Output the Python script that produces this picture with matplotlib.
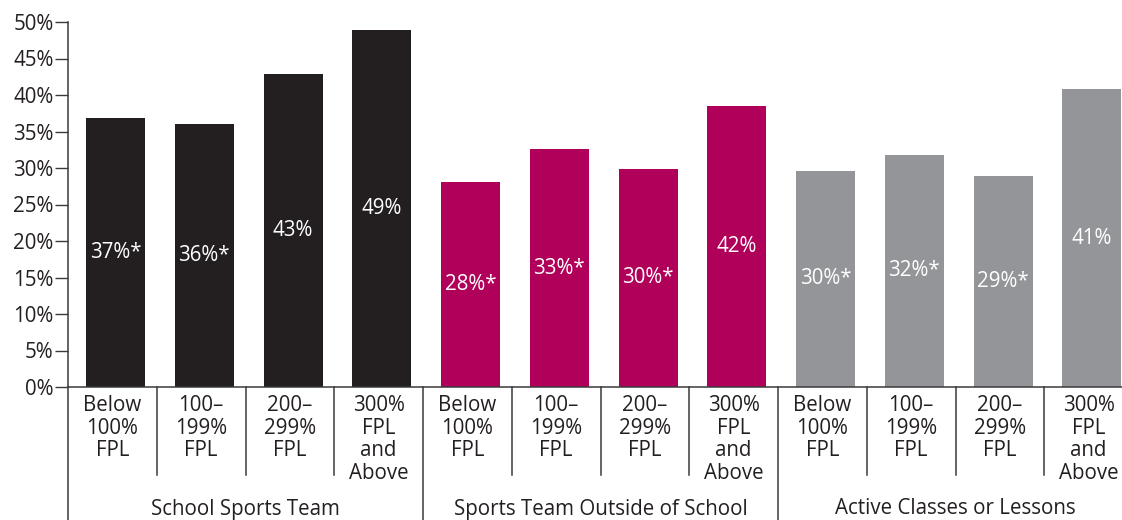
import matplotlib
matplotlib.use("Agg")
import matplotlib.pyplot as plt
from matplotlib.lines import Line2D

plt.rcParams['font.family'] = ['Open Sans', 'DejaVu Sans']

groups = ["School Sports Team", "Sports Team Outside of School", "Active Classes or Lessons"]
categories = ["Below\n100%\nFPL", "100–\n199%\nFPL", "200–\n299%\nFPL", "300%\nFPL\nand\nAbove"]
values = [
    [36.8, 36.0, 42.9, 48.9],
    [28.1, 32.6, 29.9, 38.5],
    [29.6, 31.8, 28.9, 40.8],
]
labels = [
    ["37%*", "36%*", "43%", "49%"],
    ["28%*", "33%*", "30%*", "42%"],
    ["30%*", "32%*", "29%*", "41%"],
]
colors = ["#231f20", "#b1005a", "#939598"]
yticks = [0, 5, 10, 15, 20, 25, 30, 35, 40, 45, 50]
ytick_labels = ["0%", "5%", "10%", "15%", "20%", "25%", "30%", "35%", "40%", "45%", "50%"]

W, H = 1122, 520
fig = plt.figure(figsize=(W / 100, H / 100), dpi=100)
ax_left = 68 / W
ax_right = 1133 / W
ax_bottom = 1 - 387 / H
ax_top = 1 - 22 / H
ax = fig.add_axes([ax_left, ax_bottom, ax_right - ax_left, ax_top - ax_bottom])

axis_color = "#3a3a3c"
text_color = "#231f20"
fs = 14.8
n_cat = len(categories)
bar_w = 59 / 88.75
offset = 47.5 / 88.75

for g, (vals, labs, col) in enumerate(zip(values, labels, colors)):
    xs = [g * n_cat + i + offset for i in range(n_cat)]
    ax.bar(xs, vals, width=bar_w, color=col, zorder=2)
    for x, v, lab in zip(xs, vals, labs):
        ax.text(x, v / 2, lab, ha="center", va="center", color="white", fontsize=fs)

ax.set_xlim(0, len(groups) * n_cat)
ax.set_ylim(0, 50)
ax.set_yticks(yticks)
ax.set_yticklabels(ytick_labels, fontsize=fs, color=text_color)
ax.tick_params(axis="y", direction="out", length=9.5, width=1.0, color=axis_color, pad=1)
ax.set_xticks([])
for s in ["top", "right"]:
    ax.spines[s].set_visible(False)
ax.spines["left"].set_color(axis_color)
ax.spines["bottom"].set_color(axis_color)
ax.spines["left"].set_linewidth(1.1)
ax.spines["bottom"].set_linewidth(1.1)

trans = ax.get_xaxis_transform()
inner_bottom = (387 - 475) / 365
outer_bottom = (387 - 521) / 365

for g in range(len(groups)):
    for i in range(n_cat):
        xc = g * n_cat + i + 0.5
        ax.text(xc, -0.022, categories[i], transform=trans, ha="center", va="top",
                fontsize=fs, color=text_color, linespacing=1.1)
        if i > 0:
            xl = g * n_cat + i
            ax.add_line(Line2D([xl, xl], [0, inner_bottom], transform=trans,
                               color=axis_color, lw=1.1, clip_on=False))
    xl = g * n_cat
    ax.add_line(Line2D([xl, xl], [0, outer_bottom], transform=trans,
                       color=axis_color, lw=1.1, clip_on=False))
    ax.text(g * n_cat + n_cat / 2, (387 - 509) / 365, groups[g], transform=trans,
            ha="center", va="center", fontsize=fs, color=text_color)

fig.savefig("out.png", dpi=100)
